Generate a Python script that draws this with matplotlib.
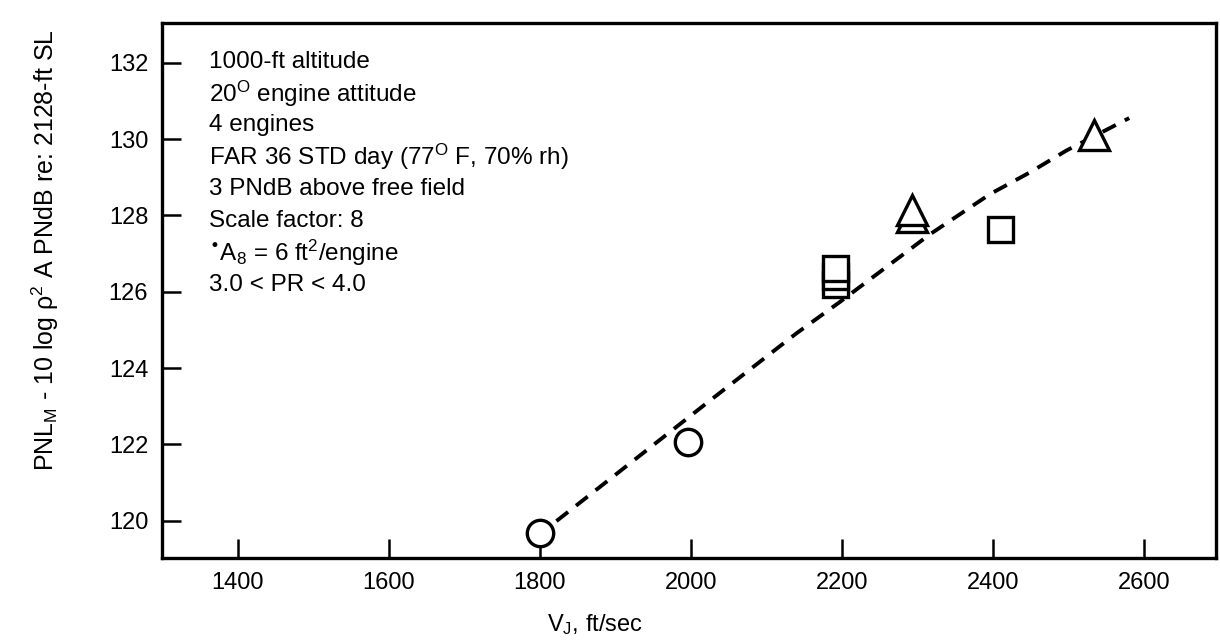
import matplotlib.pyplot as plt

plt.rcParams['font.family'] = ['Liberation Sans', 'DejaVu Sans']
plt.rcParams['mathtext.default'] = 'regular'

# measured points (scan de-rotated by eye)
circle_x = [1800, 1996]
circle_y = [119.68, 122.06]
square_x = [2190, 2190, 2190, 2409]
square_y = [126.20, 126.42, 126.63, 127.65]
tri_x = [2293, 2293, 2534]
tri_y = [127.95, 128.15, 130.10]

# dashed trend line
curve_x = [1822, 2024, 2139, 2197, 2316, 2396, 2448, 2497, 2580]
curve_y = [119.99, 123.13, 124.90, 125.73, 127.50, 128.56, 129.12, 129.70, 130.55]

xticks = [1400, 1600, 1800, 2000, 2200, 2400, 2600]
yticks = [120, 122, 124, 126, 128, 130, 132]

notes = [
    '1000-ft altitude',
    r'20$^{O}$ engine attitude',
    '4 engines',
    r'FAR 36 STD day (77$^{O}$ F, 70% rh)',
    '3 PNdB above free field',
    'Scale factor: 8',
    r'$^{•}$A$_{8}$ = 6 ft$^{2}$/engine',
    r'3.0 < PR < 4.0',
]

fig = plt.figure(figsize=(12.2, 6.4), dpi=100)
ax = fig.add_axes([0.1328, 0.128, 0.864, 0.836])

ax.plot(curve_x, curve_y, color='black', lw=2.8, dashes=(3.8, 2.6))
mk = dict(ls='none', mfc='white', mec='black', mew=2.4)
ax.plot(circle_x, circle_y, marker='o', ms=19, **mk)
ax.plot(square_x, square_y, marker='s', ms=18, **mk)
ax.plot(tri_x, tri_y, marker='^', ms=22, **mk)

ax.set_xlim(1300, 2695)
ax.set_ylim(119.02, 133.04)
ax.set_xticks(xticks)
ax.set_yticks(yticks)

for s in ax.spines.values():
    s.set_linewidth(2.4)
ax.tick_params(direction='in', length=14, width=1.8, pad=10)
ax.tick_params(axis='y', labelsize=17)
ax.tick_params(axis='x', labelsize=17)

for i, t in enumerate(notes):
    ax.text(1362, 132.03 - i * 0.836, t, fontsize=17.5, ha='left', va='center')

fig.text(45 / 1220, 1 - 250 / 640,
         r'PNL$_{M}$ - 10 log $\rho^{2}$ A PNdB re: 2128-ft SL',
         rotation=90, ha='center', va='center', fontsize=18)
fig.text(595 / 1220, 1 - 625 / 640, r'V$_{J}$, ft/sec', ha='center', va='center',
         fontsize=17)

fig.savefig('out.png', dpi=100)
